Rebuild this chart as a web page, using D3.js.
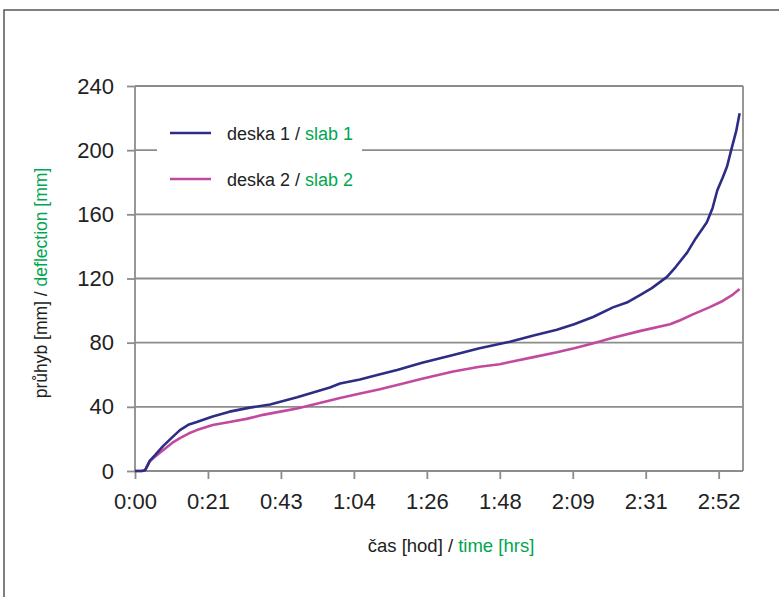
<!DOCTYPE html>
<html><head><meta charset="utf-8">
<script src="https://cdn.jsdelivr.net/npm/d3@7/dist/d3.min.js"></script>
<style>
body{margin:0;background:#fff;}
text{font-family:"Liberation Sans",Arial,sans-serif;}
</style></head>
<body><svg id="c" width="779" height="597"></svg>
<script>
// time in minutes, deflection in mm
const slab1Time = [0,2,3,4.4,6,8.3,11,13.3,16,18.3,23,28,34,40,48,57.7,60.7,66.6,72,77.6,85,94.2,102,111,118,124.9,130,135.6,141.5,145.6,149.5,153,157.5,160,163.4,166,169.3,171,172.4,174,175.3,176.5,178,179];
const slab1Vals = [0,0,0.5,6.5,10,15.5,21,25.5,29,30.5,34,37,39.5,41.5,46,52,54.5,57,60,63,67.5,72.3,76.5,80.6,84.5,88,91.5,96,102,105,109.7,114,121,127,136,145,155,164,175,183,190,200,212,223];
const slab2Time = [0,2,3,4.4,6,8.3,11,13.3,16,18.3,23,28,33,37.9,43,48,57.7,60.7,66,72.5,77.6,85,94.2,102,108,111,118,124.9,130,135.5,141.5,150,158.4,161.4,165,170,174,177,179];
const slab2Vals = [0,0,0.5,6,9,13,17.5,20.5,23.5,25.5,28.7,30.5,32.5,35,37,39,44,45.5,48,51,53.6,57.5,62,65,66.5,68,71,74,76.5,79.5,83,87.5,91.5,94,97.5,102,106,110,113.5];
const yTicks = [0,40,80,120,160,200,240];
const xTicks = [0,21.6,43.2,64.8,86.4,108,129.6,151.2,172.8];
const xTickLabels = ["0:00","0:21","0:43","1:04","1:26","1:48","2:09","2:31","2:52"];
const seriesNames = [["deska 1 / ","slab 1"],["deska 2 / ","slab 2"]];
const colors = ["#2d2d86","#c24a9e"];
const green = "#00a651";

const svg = d3.select("#c");
const L=135, R=743, T=86, B=471;
const x = d3.scaleLinear().domain([0,180]).range([L,R]);
const y = d3.scaleLinear().domain([0,240]).range([B,T]);

svg.append("rect").attr("x",4).attr("y",10).attr("width",900).attr("height",900)
  .attr("fill","none").attr("stroke","#555").attr("stroke-width",1.5);

const grid="#8c8c8c";
// gridlines
svg.append("g").selectAll("line").data(yTicks.filter(d=>d>0)).join("line")
  .attr("x1",L).attr("x2",R).attr("y1",d=>y(d)).attr("y2",d=>y(d))
  .attr("stroke",grid).attr("stroke-width",1.8);
// right border
svg.append("line").attr("x1",R).attr("x2",R).attr("y1",T).attr("y2",B).attr("stroke",grid).attr("stroke-width",1.8);

// y axis
const yAxis = svg.append("g").attr("transform",`translate(${L},0)`)
  .call(d3.axisLeft(y).tickValues(yTicks).tickSize(8).tickPadding(13));
// x axis
const xAxis = svg.append("g").attr("transform",`translate(0,${B})`)
  .call(d3.axisBottom(x).tickValues(xTicks).tickFormat((d,i)=>xTickLabels[i]).tickSize(8).tickPadding(14));
[yAxis,xAxis].forEach(a=>{
  a.selectAll("path,line").attr("stroke",grid).attr("stroke-width",1.8);
  a.select(".domain").attr("d", a===yAxis ? `M0,${T}V${B}` : `M${L},0H${R}`);
  a.selectAll("text").attr("font-size",22).attr("fill","#222").attr("font-family","Liberation Sans, Arial, sans-serif");
});

// lines
const line = d3.line().x(d=>x(d[0])).y(d=>y(d[1]));
const s2 = slab2Time.map((t,i)=>[t,slab2Vals[i]]);
const s1 = slab1Time.map((t,i)=>[t,slab1Vals[i]]);
svg.append("path").attr("d",line(s2)).attr("fill","none").attr("stroke",colors[1]).attr("stroke-width",2.6).attr("stroke-linejoin","round");
svg.append("path").attr("d",line(s1)).attr("fill","none").attr("stroke",colors[0]).attr("stroke-width",2.6).attr("stroke-linejoin","round");

// legend
svg.append("rect").attr("x",157).attr("y",112).attr("width",205).attr("height",90).attr("fill","#fff");
seriesNames.forEach((n,i)=>{
  const ly = 133 + i*46;
  svg.append("line").attr("x1",170).attr("x2",211).attr("y1",ly).attr("y2",ly).attr("stroke",colors[i]).attr("stroke-width",2.6);
  const t = svg.append("text").attr("x",227).attr("y",ly+7).attr("font-size",18).attr("fill","#222");
  t.append("tspan").text(n[0]);
  t.append("tspan").attr("fill",green).text(n[1]);
});

// axis titles
const xt = svg.append("text").attr("x",451).attr("y",552).attr("text-anchor","middle").attr("font-size",18.5).attr("fill","#222");
xt.append("tspan").text("čas [hod] / ");
xt.append("tspan").attr("fill",green).text("time [hrs]");
const yt = svg.append("text").attr("transform","translate(47,283) rotate(-90)").attr("text-anchor","middle").attr("font-size",17.5).attr("fill","#222");
yt.append("tspan").text("průhyb [mm] / ");
yt.append("tspan").attr("fill",green).text("deflection [mm]");
</script></body></html>
